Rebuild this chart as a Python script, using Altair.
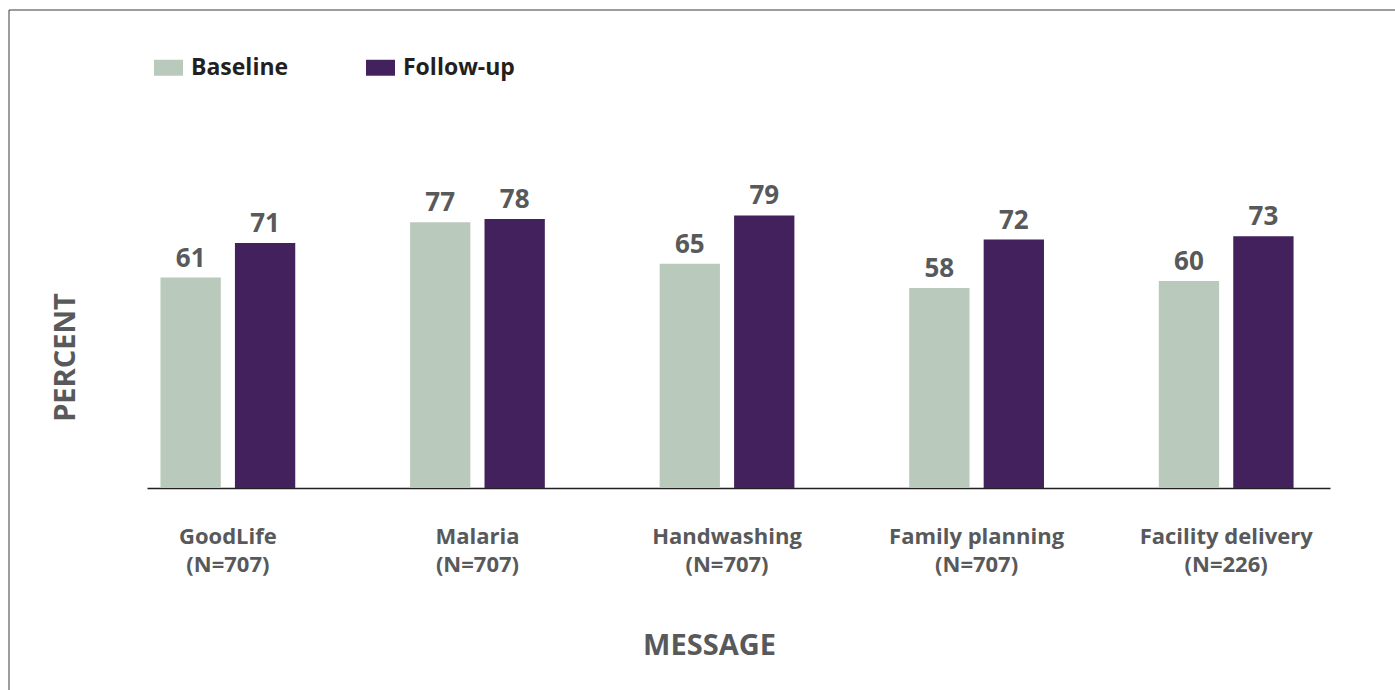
import altair as alt
import pandas as pd

categories = ["GoodLife", "Malaria", "Handwashing", "Family planning", "Facility delivery"]
sample_sizes = [707, 707, 707, 707, 226]
baseline = [61, 77, 65, 58, 60]
followup = [71, 78, 79, 72, 73]
series = ["Baseline", "Follow-up"]
colors = ["#b9c9bb", "#43215c"]

rows = []
for c, n, b, f in zip(categories, sample_sizes, baseline, followup):
    lab = f"{c}|(N={n})"
    rows.append({"label": lab, "series": "Baseline", "value": b})
    rows.append({"label": lab, "series": "Follow-up", "value": f})
df = pd.DataFrame(rows)
order = [f"{c}|(N={n})" for c, n in zip(categories, sample_sizes)]

FONT = "Open Sans"
GRAY = "#58595b"

x_enc = alt.X(
    "label:N",
    sort=order,
    scale=alt.Scale(paddingInner=0.46, paddingOuter=0.1, align=0.27),
    axis=alt.Axis(
        title="MESSAGE",
        labelExpr="split(datum.label, '|')",
        labelAngle=0,
        labelFont=FONT,
        labelFontSize=22,
        labelFontWeight="bold",
        labelColor=GRAY,
        labelLineHeight=28,
        labelPadding=38,
        labelBaseline="top",
        ticks=False,
        domainColor="#231f20",
        domainWidth=1.3,
        titleFont=FONT,
        titleFontSize=29,
        titleFontWeight="bold",
        titleColor=GRAY,
        titleX=562,
        titleY=166,
        titleAlign="center",
        titleBaseline="alphabetic",
        grid=False,
    ),
)
xo_enc = alt.XOffset("series:N", sort=series, scale=alt.Scale(paddingInner=0.19, paddingOuter=0))
y_enc = alt.Y(
    "value:Q",
    scale=alt.Scale(domain=[0, 100]),
    axis=alt.Axis(
        title="PERCENT",
        labels=False,
        ticks=False,
        domain=False,
        grid=False,
        titleFont=FONT,
        titleFontSize=29,
        titleFontWeight="bold",
        titleColor=GRAY,
        titleX=-73,
        titleY=214,
        titleAngle=270,
        titleAlign="center",
        titleBaseline="alphabetic",
    ),
)

bars = alt.Chart(df).mark_bar().encode(
    x=x_enc,
    xOffset=xo_enc,
    y=y_enc,
    color=alt.Color(
        "series:N",
        sort=series,
        scale=alt.Scale(domain=series, range=colors),
        legend=alt.Legend(
            title=None,
            orient="none",
            direction="horizontal",
            legendX=7,
            legendY=-90,
            symbolType="M-1,-0.55H1V0.55H-1Z",
            symbolSize=841,
            symbolStrokeWidth=0,
            symbolOpacity=1,
            labelFont=FONT,
            labelFontSize=23,
            labelFontWeight="bold",
            labelColor="#231f20",
            labelOffset=8,
            columnPadding=77,
            padding=0,
        ),
    ),
)

texts = alt.Chart(df).mark_text(
    baseline="alphabetic", dy=-11, font=FONT, fontSize=26, fontWeight="bold", color=GRAY
).encode(x=x_enc, xOffset=xo_enc, y=y_enc, text=alt.Text("value:Q"))

frame = alt.Chart(pd.DataFrame({"k": [0]})).mark_rect(
    filled=False, stroke="#3a3a3a", strokeWidth=1
).encode(x=alt.value(-138), x2=alt.value(1400), y=alt.value(-133), y2=alt.value(700))

chart = alt.layer(frame, bars, texts).properties(
    width=1183,
    height=345,
    background="white",
    autosize=alt.AutoSizeParams(type="none"),
    padding={"left": 147, "top": 143, "right": 65, "bottom": 202},
).configure_view(strokeWidth=0, stroke=None)

chart.save("out.html", embed_options={"renderer": "svg", "actions": False})
